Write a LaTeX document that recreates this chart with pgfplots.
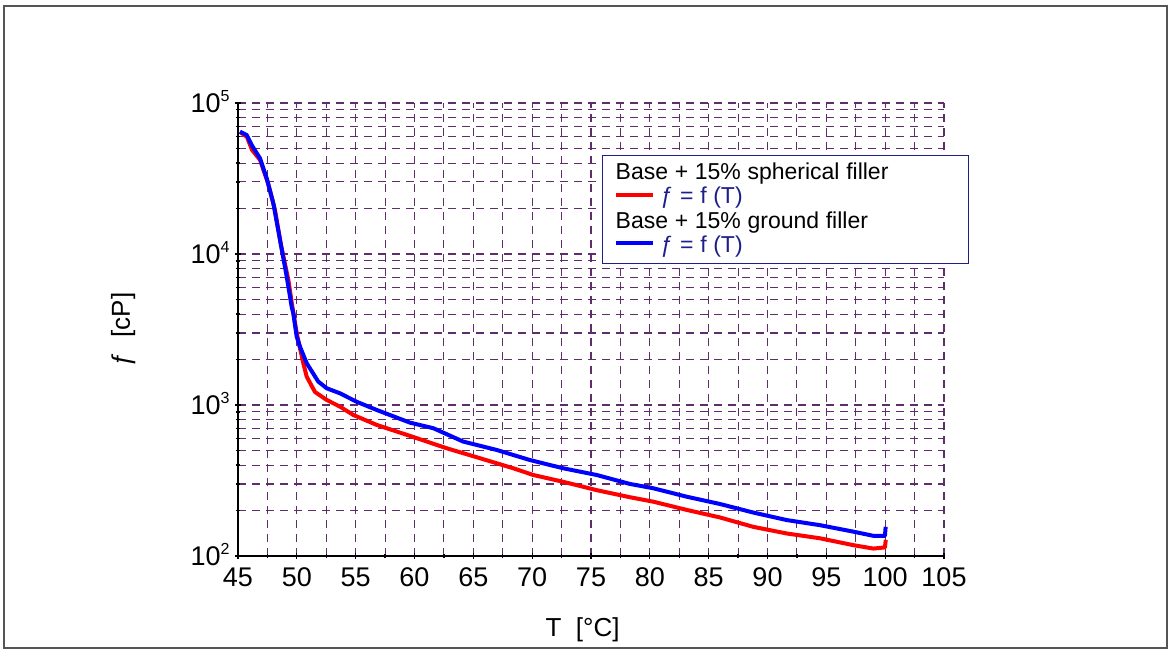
\documentclass[border=0pt]{standalone}
\usepackage{fontspec}
\setmainfont{Liberation Sans}
\usepackage{pgfplots}
\pgfplotsset{compat=1.18}
\definecolor{gridpurple}{RGB}{95,45,105}
\definecolor{navy}{RGB}{30,30,140}
\definecolor{framegray}{RGB}{85,85,85}
\newcommand\tp[1]{10\raisebox{5.6pt}{\fontsize{8}{9}\selectfont #1}}

\pgfplotstableread{
x y
45.17 64600
45.74 61400
46.16 52700
46.87 43000
47.44 31700
48.00 21700
48.57 12400
49.14 7080
49.56 4480
49.70 4050
49.99 2830
50.27 2430
50.84 1890
51.82 1430
52.54 1290
53.67 1195
55.09 1050
56.79 927
59.62 764
61.60 702
64.15 572
66.98 504
69.81 432
72.64 381
75.48 344
78.31 300
80.29 281
83.13 247
85.96 221
88.79 194
91.63 173
94.46 160
97.29 145
99.00 136
99.98 136
100.04 156
}\blueT

\pgfplotstableread{
x y
45.17 64300
45.76 59600
46.19 48900
46.87 42000
47.55 29500
48.14 19600
48.65 11500
49.28 6730
49.60 4580
49.99 2990
50.55 1890
50.84 1540
51.54 1220
52.54 1080
53.67 975
54.80 859
56.79 738
59.62 624
62.74 517
65.57 444
68.40 381
70.09 344
72.64 310
75.48 273
78.31 245
80.29 229
83.13 202
85.96 180
88.79 156
91.63 141
94.46 131
97.29 118
99.00 112
99.98 114
100.05 128
}\redT

\begin{document}
\begin{tikzpicture}
\path[use as bounding box] (-119pt,-49pt) rectangle (467pt,278pt);
\draw[framegray, line width=0.8pt] (-117pt,-46pt) rectangle (464.5pt,275pt);
\begin{axis}[
  at={(0,0)}, anchor=south west,
  scale only axis, width=353pt, height=226.5pt,
  xmin=45, xmax=105, ymin=100, ymax=100000, ymode=log,
  axis x line*=bottom, axis y line*=left,
  axis line style={black, line width=0.7pt, -},
  xtick={45,50,...,105}, minor xtick={47.5,52.5,...,102.5},
  ytick={100,1000,10000,100000},
  yticklabels={\tp{2},\tp{3},\tp{4},\tp{5}},
  minor ytick={200,300,400,500,600,700,800,900,2000,3000,4000,5000,6000,7000,8000,9000,20000,30000,40000,50000,60000,70000,80000,90000},
  grid=both,
  major grid style={gridpurple, dash pattern=on 4pt off 3pt, line width=0.55pt},
  minor grid style={gridpurple, dash pattern=on 4pt off 3pt, line width=0.55pt},
  tick style={black, line width=0.6pt},
  major tick length=3pt, minor tick length=2pt, tick align=center,
  tick label style={font=\fontsize{13.5}{15}\selectfont},
  /pgf/number format/assume math mode=true,
  xticklabel style={yshift=-1pt},
  yticklabel style={anchor=base east, inner sep=0pt, yshift=-4.8pt, xshift=-2.5pt},
  xlabel={\fontsize{13}{15}\selectfont T\ \ [°C]},
  xlabel style={at={(axis description cs:0.488,-0.178)}, anchor=base},
  ylabel={\fontsize{13}{15}\selectfont ƒ\ \ [cP]},
  ylabel style={at={(axis description cs:-0.153,0.5)}, anchor=base},
  clip=false,
]
\addplot[red, line width=2pt, line join=round] table[x=x,y=y] {\redT};
\addplot[blue, line width=2pt, line join=round] table[x=x,y=y] {\blueT};
\node[draw=navy, line width=0.7pt, fill=white, anchor=north west,
      inner xsep=6.5pt, inner ysep=2.8pt, text width=170pt, align=left,
      minimum height=54pt]
  at (axis description cs:0.5156,0.885)
  {\fontsize{11.5}{12.2}\selectfont
   Base + 15\% spherical filler\\
   \textcolor{red}{\rule[3.35pt]{18.5pt}{2pt}}\hspace{4pt}\textcolor{navy}{ƒ = f (T)}\\
   Base + 15\% ground filler\\
   \textcolor{blue}{\rule[3.35pt]{18.5pt}{2pt}}\hspace{4pt}\textcolor{navy}{ƒ = f (T)}};
\end{axis}
\end{tikzpicture}
\end{document}
